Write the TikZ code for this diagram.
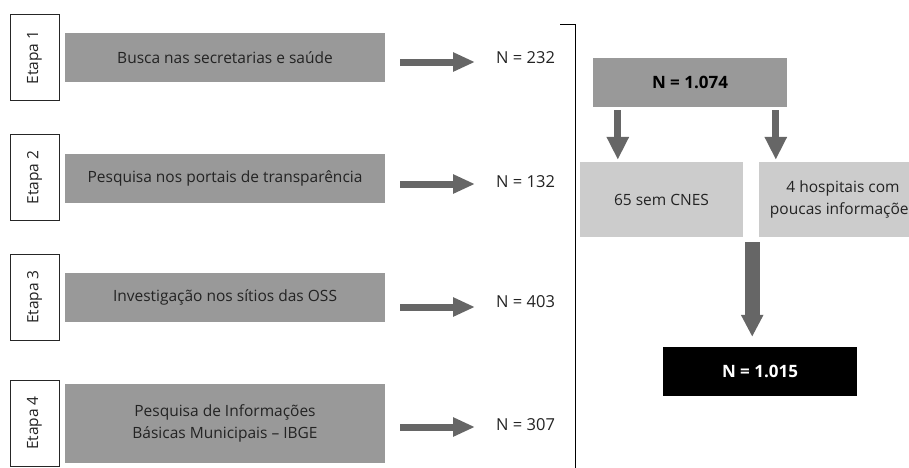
\documentclass[tikz,border=0pt]{standalone}
\usepackage{fontspec}
\setmainfont{Open Sans}
\usetikzlibrary{arrows.meta,calc}
\definecolor{boxgray}{RGB}{153,153,153}
\definecolor{lightgray}{RGB}{204,204,204}
\definecolor{arrowgray}{RGB}{102,102,102}
\definecolor{txt}{RGB}{35,35,35}
\begin{document}
\begin{tikzpicture}[x=1pt,y=-1pt,
  base/.style={font=\fontsize{15.5}{22}\selectfont, text=txt, inner sep=0pt, align=center},
  etapa/.style={base, draw=black!85, line width=0.8pt, fill=white, rotate=90,
    minimum width=86pt, minimum height=49pt},
  graybox/.style={base, fill=boxgray, minimum width=320pt, minimum height=49pt},
  nlabel/.style={base, anchor=west, font=\fontsize{16.5}{22}\selectfont},
  lightbox/.style={base, fill=lightgray, minimum height=75pt},
  boldbox/.style={base, minimum width=194pt, minimum height=49pt, font=\fontsize{17}{22}\selectfont\bfseries},
  harrow/.style={draw=arrowgray, line width=7pt, -{Triangle[width=18pt,length=22pt]}},
  varrow/.style={draw=arrowgray, line width=7pt, -{Triangle[width=21pt,length=23pt]}},
  bigarrow/.style={draw=arrowgray, line width=15pt, -{Triangle[width=21pt,length=22pt]}}]
\useasboundingbox (0,0) rectangle (909,467);
\clip (0,0) rectangle (909,467);

% left column
\node[etapa] (e1) at (34.5,57.5) {Etapa 1};
\node[etapa] (e2) at (34.5,177.5) {Etapa 2};
\node[etapa] (e3) at (34.5,297) {Etapa 3};
\node[etapa] (e4) at (34.5,423) {Etapa 4};

\node[graybox] (g1) at (225,57.5) {Busca nas secretarias e saúde};
\node[graybox] (g2) at (225,178.5) {Pesquisa nos portais de transparência};
\node[graybox] (g3) at (225,297.5) {Investigação nos sítios das OSS};
\node[graybox, minimum height=79pt] (g4) at (225,423.5) {Pesquisa de Informações\\Básicas Municipais -- IBGE};

\node[nlabel] (n1) at (496,58) {N = 232};
\node[nlabel] (n2) at (496,182) {N = 132};
\node[nlabel] (n3) at (496,302) {N = 403};
\node[nlabel] (n4) at (496,425) {N = 307};

\coordinate (a1) at ($(g1.east)+(15,4.5)$);
\coordinate (a2) at ($(g2.east)+(15,5.5)$);
\coordinate (a3) at ($(g3.east)+(15,9.5)$);
\coordinate (a4) at ($(g4.east)+(15,3.5)$);
\draw[harrow, shorten >=21pt] (a1) -- (a1 -| n1.west);
\draw[harrow, shorten >=21pt] (a2) -- (a2 -| n2.west);
\draw[harrow, shorten >=21pt] (a3) -- (a3 -| n3.west);
\draw[harrow, shorten >=21pt] (a4) -- (a4 -| n4.west);

% bracket
\coordinate (b0) at (560,24);
\coordinate (b1) at (575,24);
\coordinate (b2) at (575,470);
\draw[line width=1pt, black] (b0) -- (b1) -- (b2);

% right column
\node[boldbox, fill=boxgray, text=black] (top) at (690,82.5) {N = 1.074};
\node[lightbox, minimum width=163pt] (A) at (661.5,199.5) {65 sem CNES};
\node[lightbox, minimum width=168pt] (B) at (843,199.5) {4 hospitais com\\poucas informações};
\node[boldbox, fill=black, text=white] (bot) at (760,371.5) {N = 1.015};

\coordinate (d1) at ($(top.south west)+(25,3)$);
\coordinate (d2) at ($(top.south west)+(183,3)$);
\draw[varrow, shorten >=2pt] (d1) -- (d1 |- A.north);
\draw[varrow, shorten >=2pt] (d2) -- (d2 |- B.north);
\coordinate (d3) at ($(A.south east)+(9,5)$);
\draw[bigarrow, shorten >=10pt] (d3) -- (d3 |- bot.north);
\end{tikzpicture}
\end{document}
